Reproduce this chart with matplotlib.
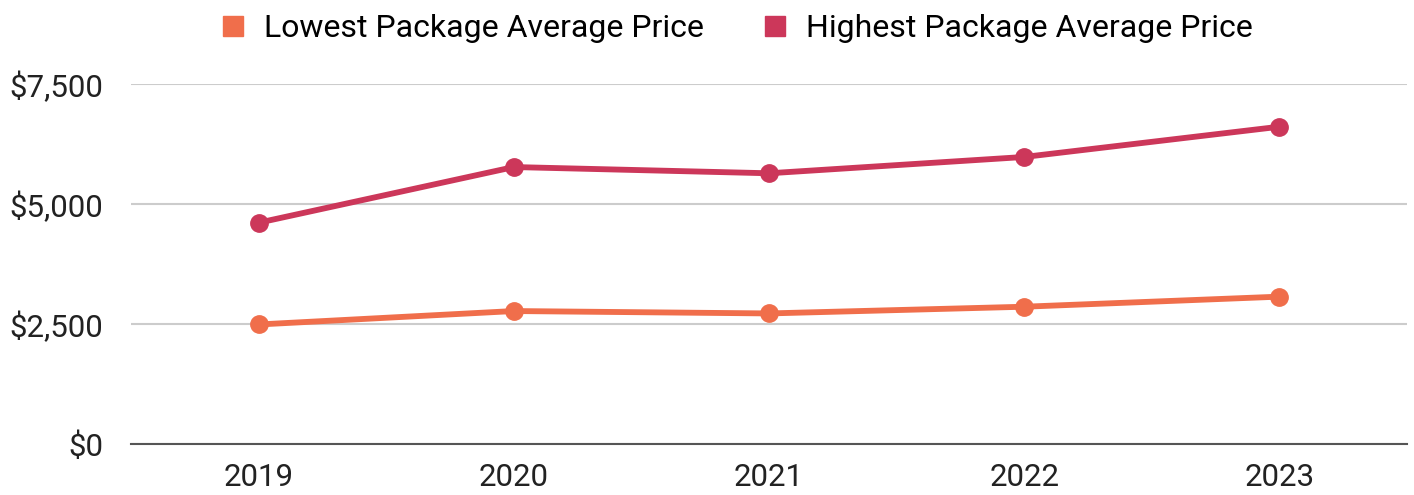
import matplotlib
matplotlib.use('Agg')
import matplotlib.pyplot as plt
from matplotlib.lines import Line2D
from matplotlib.ticker import FuncFormatter

plt.rcParams['font.family'] = ['Roboto', 'DejaVu Sans']

# data
years = ['2019', '2020', '2021', '2022', '2023']
lowest = [2490, 2770, 2720, 2860, 3070]
highest = [4610, 5770, 5640, 5980, 6610]
labels = ['Lowest Package Average Price', 'Highest Package Average Price']
colors = ['#F06E4B', '#CC375A']

fig = plt.figure(figsize=(14.14, 4.95), dpi=100)
ax = fig.add_axes([131 / 1414, 1 - 444 / 495, (1407 - 131) / 1414, (444 - 84) / 495])

x = range(len(years))
for vals, c in zip([lowest, highest], colors):
    ax.plot(x, vals, color=c, lw=4.2, marker='o', markersize=12.5,
            solid_capstyle='round', zorder=3)

ax.set_xlim(-0.5, len(years) - 0.5)
ax.set_ylim(0, 7500)
ax.set_yticks([0, 2500, 5000, 7500])
ax.yaxis.set_major_formatter(FuncFormatter(lambda v, p: '${:,.0f}'.format(v)))
ax.set_xticks(list(x))
ax.set_xticklabels(years)
ax.tick_params(axis='both', length=0, labelsize=22.5, colors='#222222')
ax.tick_params(axis='y', pad=20)
ax.tick_params(axis='x', pad=14)

ax.grid(axis='y', color='#CCCCCC', lw=1.5, zorder=0)
ax.set_axisbelow(True)
for s in ['top', 'right', 'left']:
    ax.spines[s].set_visible(False)
ax.spines['bottom'].set_color('#555555')
ax.spines['bottom'].set_linewidth(1.5)

handles = [Line2D([], [], color=c, marker='s', linestyle='none', markersize=14)
           for c in colors]
fig.legend(handles, labels, loc='upper center', bbox_to_anchor=(738 / 1414, 1.03),
           ncol=2, frameon=False, fontsize=23, handletextpad=0.65,
           columnspacing=1.95, handlelength=0.6)

fig.savefig('out.png', dpi=100)
